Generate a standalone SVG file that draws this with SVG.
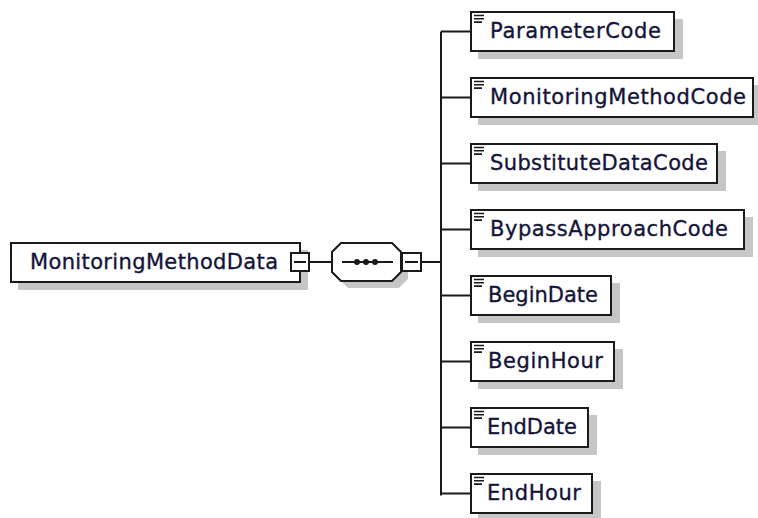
<svg xmlns="http://www.w3.org/2000/svg" width="758" height="518" viewBox="0 0 758 518">
<style>
.box{fill:#ffffff;stroke:#1a1a1a;stroke-width:2}
.shadow{fill:#c6c6c6;stroke:none}
.line{fill:none;stroke:#1a1a1a;stroke-width:2}
.icon{fill:none;stroke:#1a1a1a;stroke-width:1.6}
.label{font-family:"DejaVu Sans",Verdana,sans-serif;font-size:21px;fill:#14143a;stroke:#14143a;stroke-width:0.35}
</style>
<defs>
<g id="ico"><path class="icon" d="M474 0.5h10M474 3.8h10M474 7.1h8"/></g>
</defs>
<rect width="758" height="518" fill="#ffffff"/>
<g id="connectors">
<path class="line" d="M309 262H332"/>
<path class="line" d="M421 262H441"/>
<path class="line" d="M441 31.5V495.5"/>
<path class="line" d="M441 31.5H471M441 97.5H471M441 163.5H471M441 229.5H471M441 295.5H471M441 361.5H471M441 427.5H471M441 493.5H471"/>
</g>
<g id="MonitoringMethodData">
<rect class="shadow" x="18" y="250" width="290" height="40"/>
<rect class="box" x="11" y="243" width="289" height="39"/>
<text class="label" x="30" y="269" textLength="248" lengthAdjust="spacing">MonitoringMethodData</text>
<rect class="box" x="291" y="253" width="18" height="18"/>
<path class="line" d="M294 262H306"/>
</g>
<g id="sequence">
<polygon class="shadow" points="348,250 399,250 408,259 408,279 399,288 348,288 339,279 339,259"/>
<polygon class="box" points="341,243 392,243 401,252 401,272 392,281 341,281 332,272 332,252"/>
<path class="line" d="M342 262H393"/>
<circle cx="357" cy="262" r="3" fill="#1a1a1a"/>
<circle cx="366" cy="262" r="3" fill="#1a1a1a"/>
<circle cx="375" cy="262" r="3" fill="#1a1a1a"/>
<rect class="box" x="402" y="253" width="19" height="18"/>
<path class="line" d="M405 262H418"/>
</g>
<g id="ParameterCode">
<rect class="shadow" x="478" y="19" width="205" height="40"/>
<rect class="box" x="471" y="12" width="203" height="39"/>
<use href="#ico" y="15"/>
<text class="label" x="490" y="38" textLength="171" lengthAdjust="spacing">ParameterCode</text>
</g>
<g id="MonitoringMethodCode">
<rect class="shadow" x="478" y="85" width="290" height="40"/>
<rect class="box" x="471" y="78" width="282" height="39"/>
<use href="#ico" y="81"/>
<text class="label" x="490" y="104" textLength="256" lengthAdjust="spacing">MonitoringMethodCode</text>
</g>
<g id="SubstituteDataCode">
<rect class="shadow" x="478" y="151" width="248" height="40"/>
<rect class="box" x="471" y="144" width="246" height="39"/>
<use href="#ico" y="147"/>
<text class="label" x="490" y="170" textLength="218" lengthAdjust="spacing">SubstituteDataCode</text>
</g>
<g id="BypassApproachCode">
<rect class="shadow" x="478" y="217" width="275" height="40"/>
<rect class="box" x="471" y="210" width="273" height="39"/>
<use href="#ico" y="213"/>
<text class="label" x="490" y="236" textLength="238" lengthAdjust="spacing">BypassApproachCode</text>
</g>
<g id="BeginDate">
<rect class="shadow" x="478" y="283" width="142" height="40"/>
<rect class="box" x="471" y="276" width="140" height="39"/>
<use href="#ico" y="279"/>
<text class="label" x="488" y="302" textLength="110" lengthAdjust="spacing">BeginDate</text>
</g>
<g id="BeginHour">
<rect class="shadow" x="478" y="349" width="145" height="40"/>
<rect class="box" x="471" y="342" width="143" height="39"/>
<use href="#ico" y="345"/>
<text class="label" x="488" y="368" textLength="115" lengthAdjust="spacing">BeginHour</text>
</g>
<g id="EndDate">
<rect class="shadow" x="478" y="415" width="119" height="40"/>
<rect class="box" x="471" y="408" width="117" height="39"/>
<use href="#ico" y="411"/>
<text class="label" x="487" y="434" textLength="90" lengthAdjust="spacing">EndDate</text>
</g>
<g id="EndHour">
<rect class="shadow" x="478" y="481" width="123" height="40"/>
<rect class="box" x="471" y="474" width="121" height="39"/>
<use href="#ico" y="477"/>
<text class="label" x="487" y="500" textLength="94" lengthAdjust="spacing">EndHour</text>
</g>
</svg>
